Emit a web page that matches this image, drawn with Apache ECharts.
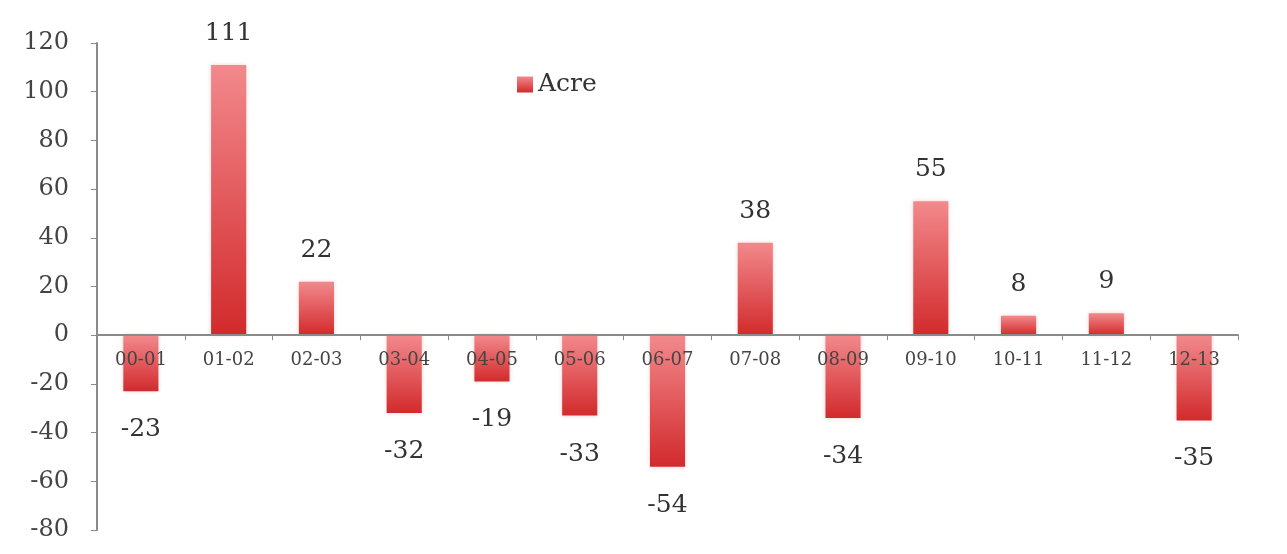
<!DOCTYPE html>
<html><head><meta charset="utf-8">
<script src="https://cdn.jsdelivr.net/npm/echarts@6/dist/echarts.min.js"></script>
<style>html,body{margin:0;padding:0;background:#fff}#c{width:1287px;height:554px}</style>
</head><body><div id="c"></div>
<script>
const categories = ['00-01','01-02','02-03','03-04','04-05','05-06','06-07','07-08','08-09','09-10','10-11','11-12','12-13'];
const acreValues = [-23, 111, 22, -32, -19, -33, -54, 38, -34, 55, 8, 9, -35];
const yTicks = { min: -80, max: 120, interval: 20 };
const seriesName = 'Acre';

const font = '"DejaVu Serif", "Liberation Serif", serif';
const gridTop = 43, gridBottom = 24, H = 554;
const plotH = H - gridTop - gridBottom;
const zeroFromBottom = plotH * (0 - yTicks.min) / (yTicks.max - yTicks.min);

const grad = new echarts.graphic.LinearGradient(0, 0, 0, 1, [
  { offset: 0, color: '#f2898c' },
  { offset: 1, color: '#d22a2c' }
]);
const chart = echarts.init(document.getElementById('c'));
chart.setOption({
  backgroundColor: '#fff',
  animation: false,
  grid: { left: 97, right: 49, top: gridTop, bottom: gridBottom, containLabel: false },
  legend: {
    data: [seriesName], left: 512, top: 67, icon: 'rect', itemWidth: 16, itemHeight: 16, itemGap: 5,
    textStyle: { fontFamily: font, fontSize: 25, color: '#333' }
  },
  xAxis: {
    type: 'category', data: categories,
    offset: -zeroFromBottom,
    axisLine: { onZero: false, lineStyle: { color: '#8a8a8a', width: 2 } },
    axisTick: { show: true, length: 5, lineStyle: { color: '#8a8a8a' } },
    axisLabel: { fontFamily: font, fontSize: 18, color: '#444', margin: 16 },
    z: 5
  },
  yAxis: {
    type: 'value', min: yTicks.min, max: yTicks.max, interval: yTicks.interval,
    splitLine: { show: false },
    axisLine: { show: true, lineStyle: { color: '#8a8a8a', width: 2 } },
    axisTick: { show: true, length: 6, lineStyle: { color: '#8a8a8a' } },
    axisLabel: { fontFamily: font, fontSize: 24, color: '#444', margin: 28 }
  },
  series: [{
    name: seriesName, type: 'bar', barWidth: '40%',
    itemStyle: { color: grad, shadowColor: 'rgba(200,60,60,0.25)', shadowBlur: 4 },
    data: acreValues.map(v => ({
      value: v,
      label: { show: true, position: v >= 0 ? 'top' : 'bottom', distance: v >= 0 ? 19 : 26,
        fontFamily: font, fontSize: 25, color: '#333' }
    }))
  }]
});
</script></body></html>
